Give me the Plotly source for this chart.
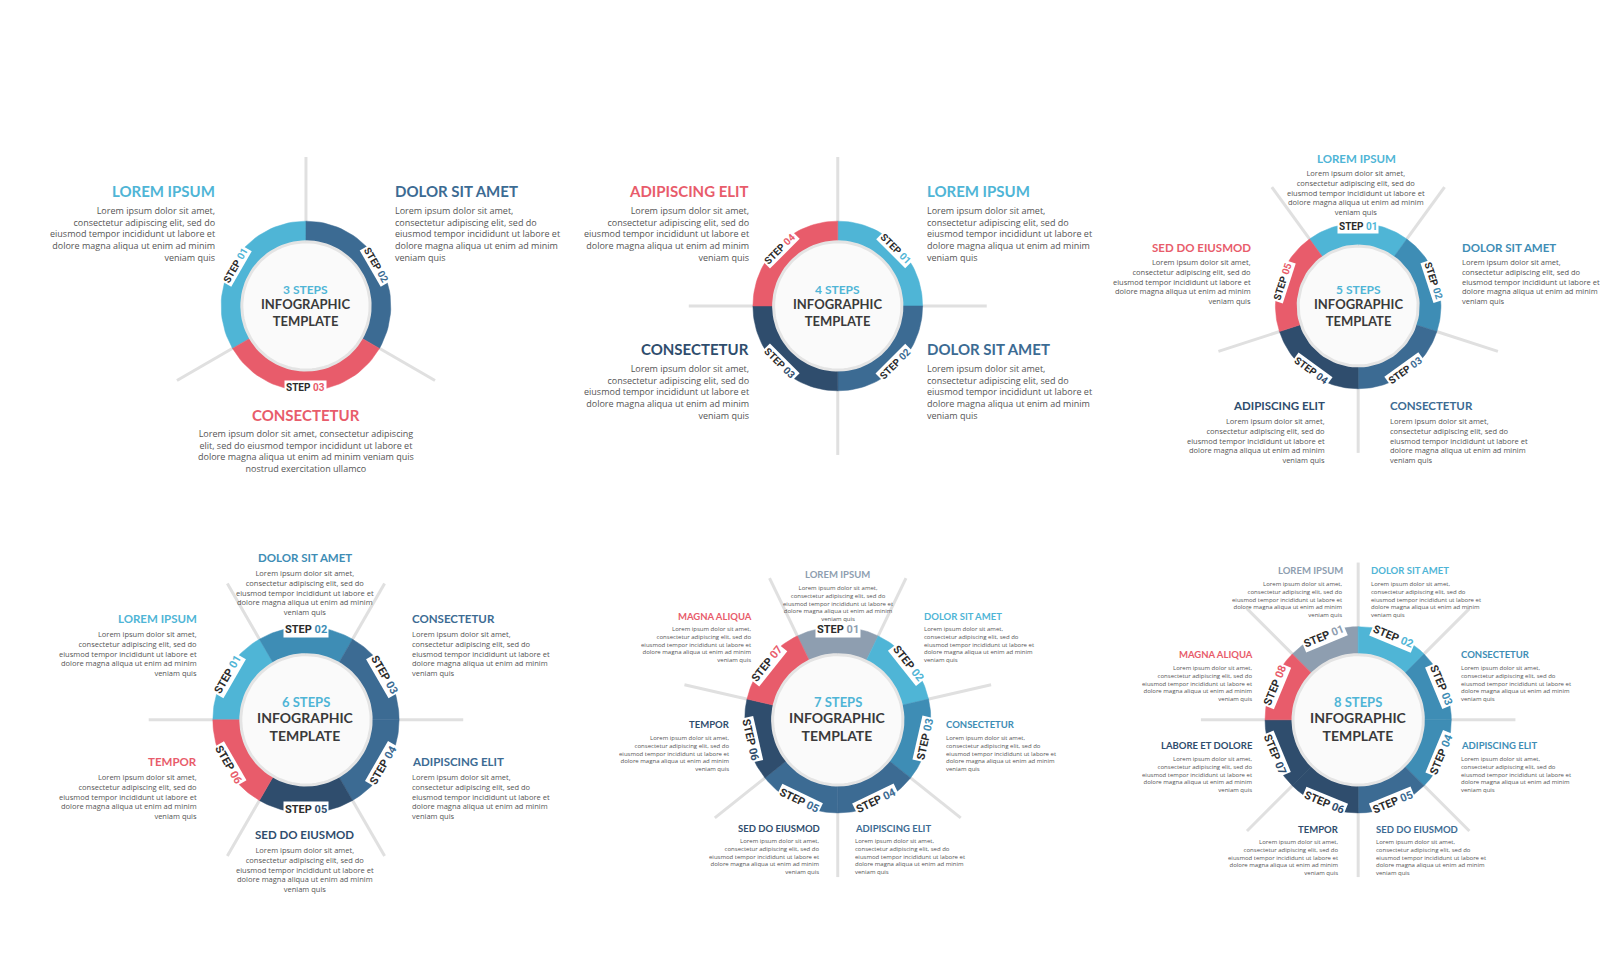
import numpy as np
import plotly.graph_objects as go

W, H = 1614, 980
S = 1614 / 1560  # layout scale
LB, MB, DB, XB, RD, GR = "#4fb5d6", "#3e8db5", "#3c6b93", "#2f4d6d", "#e85c6b", "#8e9eb0"

# ---- chart data ----
centers = [(288, 288), (802, 288), (1305, 288), (288, 688), (802, 688), (1305, 688)]
step_counts = [3, 4, 5, 6, 7, 8]
step_angles = [
    [300, 60, 180],
    [45, 135, 225, 315],
    [0, 72, 144, 216, 288],
    [300, 0, 60, 120, 180, 240],
    [0, 51.43, 102.86, 154.29, 205.71, 257.14, 308.57],
    [337.5, 22.5, 67.5, 112.5, 157.5, 202.5, 247.5, 292.5],
]
step_colors = [
    [LB, DB, RD],
    [LB, DB, XB, RD],
    [LB, MB, DB, XB, RD],
    [LB, MB, DB, DB, XB, RD],
    [GR, LB, MB, DB, DB, XB, RD],
    [GR, LB, MB, MB, DB, XB, XB, RD],
]
outer_r = [82, 82, 80, 90, 90, 90]
inner_r = [62, 62, 58, 63, 63, 63]
fs_center = [12, 12, 12, 13, 13, 13]

titles = [
    [("LOREM IPSUM", LB, 202, 177, "right"), ("DOLOR SIT AMET", DB, 372, 177, "left"), ("CONSECTETUR", RD, 288, 393, "center")],
    [("ADIPISCING ELIT", RD, 718, 177, "right"), ("LOREM IPSUM", LB, 886, 177, "left"),
     ("CONSECTETUR", XB, 718, 330, "right"), ("DOLOR SIT AMET", DB, 886, 330, "left")],
    [("LOREM IPSUM", LB, 1303, 145, "center"), ("SED DO EIUSMOD", RD, 1203, 231, "right"),
     ("DOLOR SIT AMET", MB, 1403, 231, "left"), ("ADIPISCING ELIT", XB, 1275, 384, "right"),
     ("CONSECTETUR", DB, 1334, 384, "left")],
    [("DOLOR SIT AMET", MB, 287, 531, "center"), ("LOREM IPSUM", LB, 185, 590, "right"),
     ("CONSECTETUR", DB, 389, 590, "left"), ("TEMPOR", RD, 185, 728, "right"),
     ("ADIPISCING ELIT", DB, 389, 728, "left"), ("SED DO EIUSMOD", XB, 287, 799, "center")],
    [("LOREM IPSUM", GR, 802, 548, "center"), ("MAGNA ALIQUA", RD, 721, 588, "right"),
     ("DOLOR SIT AMET", LB, 883, 588, "left"), ("TEMPOR", XB, 700, 693, "right"),
     ("CONSECTETUR", MB, 905, 693, "left"), ("SED DO EIUSMOD", XB, 787, 793, "right"),
     ("ADIPISCING ELIT", DB, 817, 793, "left")],
    [("LOREM IPSUM", GR, 1292, 544, "right"), ("DOLOR SIT AMET", LB, 1315, 544, "left"),
     ("MAGNA ALIQUA", RD, 1205, 625, "right"), ("CONSECTETUR", MB, 1402, 625, "left"),
     ("LABORE ET DOLORE", XB, 1205, 713, "right"), ("ADIPISCING ELIT", MB, 1402, 713, "left"),
     ("TEMPOR", XB, 1288, 794, "right"), ("SED DO EIUSMOD", DB, 1320, 794, "left")],
]
title_fs = [15, 15, 11.5, 11.5, 9.5, 9.5]
body_fs = [9, 9, 7.5, 7.5, 6, 6]
body_wide = ("Lorem ipsum dolor sit amet,<br>consectetur adipiscing elit, sed do<br>eiusmod tempor incididunt ut labore et"
             "<br>dolore magna aliqua ut enim ad minim<br>veniam quis")
body_c1 = ("Lorem ipsum dolor sit amet, consectetur adipiscing<br>elit, sed do eiusmod tempor incididunt ut labore et"
           "<br>dolore magna aliqua ut enim ad minim veniam quis<br>nostrud exercitation ullamco")

fig = go.Figure()
ann = []

def pt(cx, cy, r, a):
    t = np.radians(a)
    return S * (cx + r * np.sin(t)), S * (cy - r * np.cos(t))

for ci, (cx, cy) in enumerate(centers):
    n = step_counts[ci]
    ro, ri = outer_r[ci], inner_r[ci]
    half = 180.0 / n
    for a in step_angles[ci]:
        b = a + half
        x0, y0 = pt(cx, cy, ro - 5, b)
        x1, y1 = pt(cx, cy, ro + 62, b)
        fig.add_trace(go.Scatter(x=[x0, x1], y=[y0, y1], mode="lines",
                                 line=dict(color="#e0e0e0", width=3), hoverinfo="skip"))
    for k, a in enumerate(step_angles[ci]):
        th = np.linspace(a - half, a + half, 40)
        xo, yo = pt(cx, cy, ro, th)
        xi, yi = pt(cx, cy, ri - 4, th[::-1])
        fig.add_trace(go.Scatter(x=np.r_[xo, xi, xo[0]], y=np.r_[yo, yi, yo[0]], mode="lines",
                                 fill="toself", fillcolor=step_colors[ci][k],
                                 line=dict(color=step_colors[ci][k], width=0.5), hoverinfo="skip"))
        lx, ly = pt(cx, cy, ro - 3, a)
        ang = a % 360
        ta = ang if (ang <= 90 or ang >= 270) else ang - 180
        ann.append(dict(x=lx, y=ly, text=f"<b>STEP <span style='color:{step_colors[ci][k]}'>{k+1:02d}</span></b>",
                        showarrow=False, textangle=ta, bgcolor="white",
                        font=dict(family="Roboto", size=10 if n < 6 else 11, color="#2b2b2b"),
                        borderpad=1))
    th = np.linspace(0, 360, 100)
    xc, yc = pt(cx, cy, ri, th)
    fig.add_trace(go.Scatter(x=xc, y=yc, mode="lines", fill="toself", fillcolor="#fafafa",
                             line=dict(color="#e4e4e4", width=3), hoverinfo="skip"))
    fs = fs_center[ci]
    ann.append(dict(x=S * cx, y=S * (cy - fs * 1.3), text=f"<b>{n} STEPS</b>", showarrow=False,
                    font=dict(family="Lato", size=fs, color=LB)))
    ann.append(dict(x=S * cx, y=S * (cy + fs * 0.5), text="<b>INFOGRAPHIC<br>TEMPLATE</b>", showarrow=False,
                    font=dict(family="Lato", size=fs + 1, color="#3a3a3a")))
    for (t, col, x, y, al) in titles[ci]:
        ann.append(dict(x=S * x, y=S * y, text=f"<b>{t}</b>", showarrow=False, xanchor=al, yanchor="middle",
                        font=dict(family="Lato", size=title_fs[ci], color=col)))
        body = body_c1 if (ci == 0 and al == "center") else body_wide
        ann.append(dict(x=S * x, y=S * (y + title_fs[ci] * 0.7), text=body, showarrow=False, xanchor=al,
                        yanchor="top", align=al,
                        font=dict(family="Open Sans", size=body_fs[ci], color="#555555")))

fig.update_layout(
    width=W, height=H, margin=dict(l=0, r=0, t=0, b=0), showlegend=False,
    paper_bgcolor="white", plot_bgcolor="white", annotations=ann,
    xaxis=dict(range=[0, W], visible=False, fixedrange=True),
    yaxis=dict(range=[H, 0], visible=False, fixedrange=True),
)
fig.write_html("out.html")
